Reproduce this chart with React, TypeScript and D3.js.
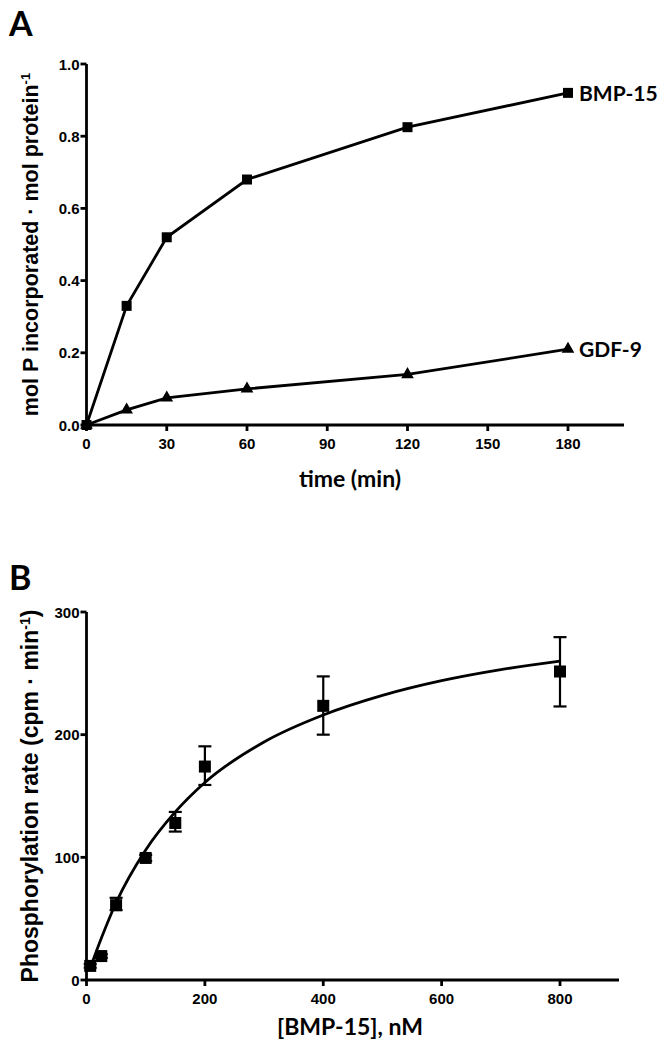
import React from "react";
import * as d3 from "d3";

// Panel A data
const timeMin = [0, 15, 30, 60, 120, 180];
const bmp15Incorp = [0, 0.33, 0.52, 0.68, 0.825, 0.92];
const gdf9Incorp = [0, 0.042, 0.075, 0.1, 0.14, 0.21];
const aXTicks = [0, 30, 60, 90, 120, 150, 180];
const aYTicks = [0, 0.2, 0.4, 0.6, 0.8, 1.0];

// Panel B data
const bmpConc = [6.25, 25, 50, 100, 150, 200, 400, 800];
const phosRate = [11.5, 19.5, 61, 99.5, 128, 174, 223.5, 251.5];
const rateErrHi = [13, 21, 67, 102, 137, 190.5, 247.5, 279.5];
const rateErrLo = [10, 18, 57, 97, 121, 159, 200, 223];
// fitted saturation curve
const fitConc = [5, 25, 50, 100, 150, 200, 300, 400, 500, 600, 700, 800];
const fitRate = [8, 34, 63, 106, 137, 161, 194, 216, 232, 244, 253, 260];
const bXTicks = [0, 200, 400, 600, 800];
const bYTicks = [0, 100, 200, 300];

const tickFont = "'Liberation Sans Narrow','Arial Narrow','Liberation Sans',Arial,sans-serif";
const titleFont = "Lato,'Open Sans',Calibri,sans-serif";
const arialFont = "'Liberation Sans',Arial,sans-serif";

export default function App() {
  // Panel A scales
  const ax = d3.scaleLinear().domain([0, 180]).range([86.5, 568]);
  const ay = d3.scaleLinear().domain([0, 1]).range([425, 64]);
  const aXEnd = 624;
  const lineA = d3.line<number>().x((d, i) => ax(timeMin[i])).y((d) => ay(d));

  // Panel B scales
  const bx = d3.scaleLinear().domain([0, 800]).range([86.5, 560]);
  const by = d3.scaleLinear().domain([0, 300]).range([980, 612]);
  const bXEnd = 619;
  const fitLine = d3
    .line<number>()
    .x((d, i) => bx(fitConc[i]))
    .y((d) => by(d))
    .curve(d3.curveMonotoneX);

  const tri = d3.symbol().type(d3.symbolTriangle).size(70)();
  const sw = 2.8;

  return (
    <svg
      width={670}
      height={1049}
      style={{ position: "absolute", left: 0, top: 0, background: "#fff" }}
    >
      <rect x={0} y={0} width={670} height={1049} fill="#fff" />
      {/* ===== Panel A ===== */}
      <text x={9} y={36} fontFamily={titleFont} fontWeight="bold" fontSize={34}>
        A
      </text>
      {/* axes */}
      <line x1={ax(0)} x2={ax(0)} y1={ay(1)} y2={ay(0)} stroke="#000" strokeWidth={sw} />
      <line x1={ax(0) - 1} x2={aXEnd} y1={ay(0)} y2={ay(0)} stroke="#000" strokeWidth={sw} />
      {aYTicks.map((t) => (
        <g key={"ayt" + t}>
          <line x1={ax(0) - 6} x2={ax(0)} y1={ay(t)} y2={ay(t)} stroke="#000" strokeWidth={sw} />
          <text
            x={ax(0) - 7}
            y={ay(t) + 5.5}
            textAnchor="end"
            fontFamily={tickFont}
            fontWeight="bold"
            fontSize={15}
          >
            {d3.format(".1f")(t)}
          </text>
        </g>
      ))}
      {aXTicks.map((t) => (
        <g key={"axt" + t}>
          <line x1={ax(t)} x2={ax(t)} y1={ay(0)} y2={ay(0) + 6} stroke="#000" strokeWidth={sw} />
          <text
            x={ax(t)}
            y={ay(0) + 24}
            textAnchor="middle"
            fontFamily={tickFont}
            fontWeight="bold"
            fontSize={15}
          >
            {t}
          </text>
        </g>
      ))}
      <text
        x={350}
        y={487}
        textAnchor="middle"
        fontFamily={titleFont}
        fontWeight="bold"
        fontSize={23}
      >
        time (min)
      </text>
      <text
        transform={`translate(38,${(ay(0) + ay(1)) / 2}) rotate(-90)`}
        textAnchor="middle"
        fontFamily={arialFont}
        fontWeight="bold"
        fontSize={21.5}
      >
        mol P incorporated · mol protein
        <tspan dy={-8} fontSize={13}>-1</tspan>
      </text>
      {/* series */}
      <path d={lineA(bmp15Incorp) || ""} fill="none" stroke="#000" strokeWidth={sw} />
      <path d={lineA(gdf9Incorp) || ""} fill="none" stroke="#000" strokeWidth={sw} />
      {bmp15Incorp.map((v, i) => (
        <rect
          key={"bs" + i}
          x={ax(timeMin[i]) - 5}
          y={ay(v) - 5}
          width={10}
          height={10}
          fill="#000"
        />
      ))}
      {gdf9Incorp.map((v, i) => (
        <path
          key={"gt" + i}
          d={tri || ""}
          transform={`translate(${ax(timeMin[i])},${ay(v)})`}
          fill="#000"
        />
      ))}
      <text
        x={ax(180) + 11}
        y={ay(bmp15Incorp[5]) + 8}
        fontFamily={titleFont}
        fontWeight="bold"
        fontSize={21}
      >
        BMP-15
      </text>
      <text
        x={ax(180) + 11}
        y={ay(gdf9Incorp[5]) + 8}
        fontFamily={titleFont}
        fontWeight="bold"
        fontSize={21}
      >
        GDF-9
      </text>

      {/* ===== Panel B ===== */}
      <text x={9} y={590} fontFamily={titleFont} fontWeight="bold" fontSize={34}>
        B
      </text>
      <line x1={bx(0)} x2={bx(0)} y1={by(300)} y2={by(0)} stroke="#000" strokeWidth={sw} />
      <line x1={bx(0) - 1} x2={bXEnd} y1={by(0)} y2={by(0)} stroke="#000" strokeWidth={sw} />
      {bYTicks.map((t) => (
        <g key={"byt" + t}>
          <line x1={bx(0) - 6} x2={bx(0)} y1={by(t)} y2={by(t)} stroke="#000" strokeWidth={sw} />
          <text
            x={bx(0) - 7}
            y={by(t) + 5.5}
            textAnchor="end"
            fontFamily={tickFont}
            fontWeight="bold"
            fontSize={15}
          >
            {t}
          </text>
        </g>
      ))}
      {bXTicks.map((t) => (
        <g key={"bxt" + t}>
          <line x1={bx(t)} x2={bx(t)} y1={by(0)} y2={by(0) + 6} stroke="#000" strokeWidth={sw} />
          <text
            x={bx(t)}
            y={by(0) + 24}
            textAnchor="middle"
            fontFamily={tickFont}
            fontWeight="bold"
            fontSize={15}
          >
            {t}
          </text>
        </g>
      ))}
      <text
        x={350}
        y={1035}
        textAnchor="middle"
        fontFamily={titleFont}
        fontWeight="bold"
        fontSize={23}
      >
        [BMP-15], nM
      </text>
      <text
        transform={`translate(38,${(by(0) + by(300)) / 2}) rotate(-90)`}
        textAnchor="middle"
        fontFamily={arialFont}
        fontWeight="bold"
        fontSize={23}
      >
        Phosphorylation rate (cpm · min
        <tspan dy={-8} fontSize={14}>-1</tspan>
        <tspan dy={8}>)</tspan>
      </text>
      <path d={fitLine(fitRate) || ""} fill="none" stroke="#000" strokeWidth={sw} />
      {phosRate.map((v, i) => {
        const cx = bx(bmpConc[i]);
        return (
          <g key={"bp" + i}>
            <line x1={cx} x2={cx} y1={by(rateErrHi[i])} y2={by(rateErrLo[i])} stroke="#000" strokeWidth={2.2} />
            <line x1={cx - 6.5} x2={cx + 6.5} y1={by(rateErrHi[i])} y2={by(rateErrHi[i])} stroke="#000" strokeWidth={2.2} />
            <line x1={cx - 6.5} x2={cx + 6.5} y1={by(rateErrLo[i])} y2={by(rateErrLo[i])} stroke="#000" strokeWidth={2.2} />
            <rect x={cx - 6} y={by(v) - 6} width={12} height={12} fill="#000" />
          </g>
        );
      })}
    </svg>
  );
}
